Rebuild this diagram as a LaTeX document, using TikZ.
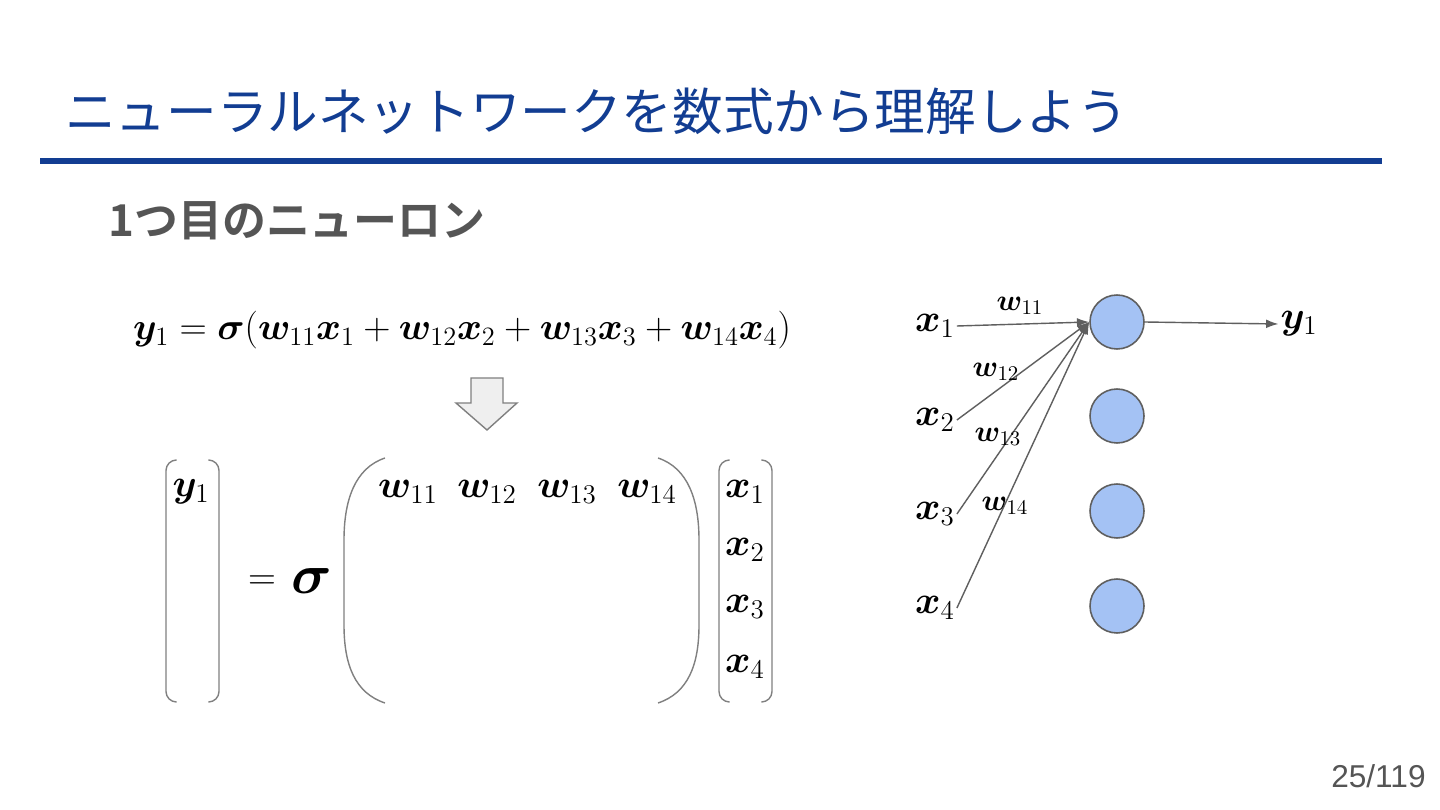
\RequirePackage{fix-cm}
\documentclass[tikz,border=0pt]{standalone}
\usepackage{amsmath,bm}
\usepackage{fontspec}
\setsansfont{Liberation Sans}
\newfontfamily\jp{Noto Sans CJK JP}[BoldFont={Noto Sans CJK JP Bold}]
\usetikzlibrary{arrows.meta,positioning}
\definecolor{navy}{HTML}{123D92}
\definecolor{slate}{HTML}{555555}
\definecolor{wire}{HTML}{5F5F5F}
\definecolor{cell}{HTML}{A4C2F4}
\definecolor{fog}{HTML}{EFEFEF}

\begin{document}
\begin{tikzpicture}[x=0.02cm,y=-0.02cm,
  mth/.style={font=\fontsize{22}{26}\selectfont,inner sep=1pt},
  wlab/.style={font=\fontsize{17}{20}\selectfont,inner sep=1pt},
  unit/.style={circle,draw=wire,fill=cell,line width=0.9pt,minimum size=1.08cm,inner sep=0pt},
  link/.style={draw=wire,line width=0.8pt,-{Latex[length=7pt,width=5pt]}},
  brk/.style={draw=gray,line width=0.8pt}]
  \useasboundingbox[fill=white] (0,0) rectangle (1440,810);
  % heading
  \node[anchor=base west,text=navy,font=\jp\fontsize{28.8}{34}\selectfont,inner sep=0pt] (title) at (65,131) {ニューラルネットワークを数式から理解しよう};
  \draw[navy,line width=0.12cm] (40,161) -- (1382,161);
  \node[anchor=west,text=slate,font=\jp\bfseries\fontsize{25}{30}\selectfont,inner sep=0pt] (sub) at (108,221) {1つ目のニューロン};
  % the sum, then its matrix form
  \node[mth,font=\fontsize{21.5}{26}\selectfont] (eq) at (462,330) {$\bm{y}_1=\bm{\sigma}(\bm{w}_{11}\bm{x}_1+\bm{w}_{12}\bm{x}_2+\bm{w}_{13}\bm{x}_3+\bm{w}_{14}\bm{x}_4)$};
  \draw[fill=fog,draw=gray,line width=0.8pt] (471,378) -- (503,378) -- (503,403) -- (517,403) -- (487,430) -- (456,403) -- (471,403) -- cycle;
  \draw[brk,rounded corners=6] (176,460) -- (166,460) -- (166,702) -- (176,702);
  \draw[brk,rounded corners=6] (209,460) -- (219,460) -- (219,702) -- (209,702);
  \node[mth] (vy) at (191,492) {$\bm{y}_1$};
  \node[mth] (eqs) at (262,583) {$=$};
  \node[font=\fontsize{32}{36}\selectfont,inner sep=1pt] (sg) at (312,581) {$\bm{\sigma}$};
  \draw[brk] (385,458) .. controls (355,468) and (344,500) .. (344,540) -- (344,625) .. controls (344,665) and (355,693) .. (385,703);
  \draw[brk] (658,458) .. controls (688,468) and (699,500) .. (699,540) -- (699,625) .. controls (699,665) and (688,693) .. (658,703);
  \foreach \c [count=\j] in {408,487,567,647}
    \node[mth] (w1\j) at (\c,492) {$\bm{w}_{1\j}$};
  \draw[brk,rounded corners=6] (729,460) -- (719,460) -- (719,702) -- (729,702);
  \draw[brk,rounded corners=6] (762,460) -- (772,460) -- (772,702) -- (762,702);
  \foreach \r [count=\i] in {492,550,607,667}
    \node[mth] (v\i) at (745,\r) {$\bm{x}_\i$};
  % network
  \foreach \r [count=\i] in {322,416,511,606}
    \node[unit] (n\i) at (1117,\r) {};
  \foreach \r [count=\i] in {326,420,514,608}
    \node[mth] (in\i) at (935,\r) {$\bm{x}_\i$};
  \foreach \i in {1,...,4}
    \draw[link] (in\i.east) -- (n1.west);
  \node[mth] (out) at (1299,324) {$\bm{y}_1$};
  \draw[link] (n1.east) -- (out.west);
  \foreach \x/\y [count=\j] in {1020/306,996/372,998/437,1005/506}
    \node[wlab] (lw\j) at (\x,\y) {$\bm{w}_{1\j}$};
  \node[font=\sffamily\fontsize{18}{20}\selectfont,text=slate,anchor=east,inner sep=0pt] (pg) at (1426,776) {25/119};
\end{tikzpicture}
\end{document}
